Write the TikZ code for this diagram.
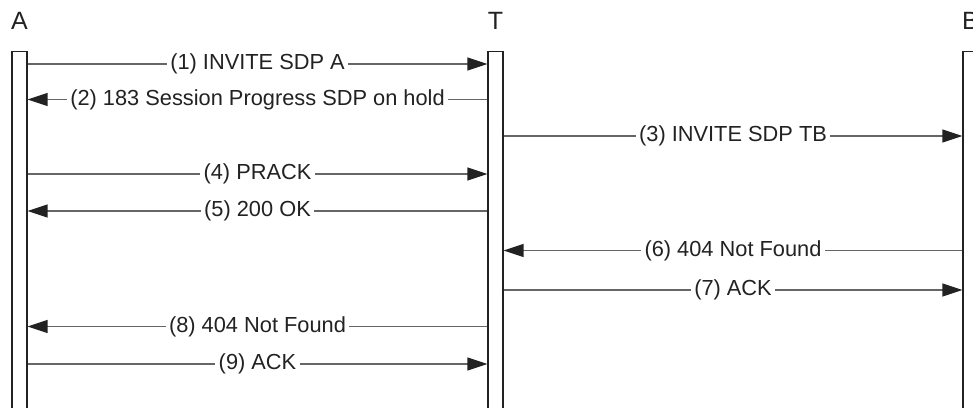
\documentclass[tikz,border=0pt]{standalone}
\usepackage{fontspec}
\setmainfont{Liberation Sans}
\usetikzlibrary{arrows.meta}
\definecolor{ink}{HTML}{222222}
\definecolor{wire}{HTML}{666666}
\tikzset{
  lifebar/.style={draw=ink, line width=1.3pt, fill=white, minimum width=15pt, minimum height=380pt, inner sep=0pt, anchor=north},
  party/.style={text=ink, font=\fontsize{25}{28}\selectfont, inner sep=0pt, anchor=base},
  msg/.style={draw=wire, line width=1.4pt, -{Triangle[length=20pt,width=13pt,color=ink]}},
  lbl/.style={fill=white, text=ink, font=\fontsize{21.8}{24}\selectfont, inner xsep=3.5pt, inner ysep=1pt, midway}
}
\begin{document}
\begin{tikzpicture}[x=1pt,y=-1pt]
\useasboundingbox (0,0) rectangle (973,407);
\clip (0,0) rectangle (973,407);
\fill[white] (0,0) rectangle (973,407);
% parties
\node[party] (lA) at (19.5,29) {A};
\node[party] (lT) at (495.5,29) {T};
\node[party] (lB) at (970.5,29) {B};
% lifelines
\node[lifebar] (A) at (19.5,51) {};
\node[lifebar] (T) at (495.5,51) {};
\node[lifebar] (B) at (970.5,51) {};
% message rows
\coordinate (m1) at (0,64);
\coordinate (m2) at (0,99.5);
\coordinate (m3) at (0,136);
\coordinate (m4) at (0,174);
\coordinate (m5) at (0,211);
\coordinate (m6) at (0,250.5);
\coordinate (m7) at (0,290);
\coordinate (m8) at (0,326.5);
\coordinate (m9) at (0,364);
\draw[msg] (A.east |- m1) -- node[lbl] {(1) INVITE SDP A} (T.west |- m1);
\draw[msg] (T.west |- m2) -- node[lbl] {(2) 183 Session Progress SDP on hold} (A.east |- m2);
\draw[msg] (T.east |- m3) -- node[lbl] {(3) INVITE SDP TB} (B.west |- m3);
\draw[msg] (A.east |- m4) -- node[lbl] {(4) PRACK} (T.west |- m4);
\draw[msg] (T.west |- m5) -- node[lbl] {(5) 200 OK} (A.east |- m5);
\draw[msg] (B.west |- m6) -- node[lbl] {(6) 404 Not Found} (T.east |- m6);
\draw[msg] (T.east |- m7) -- node[lbl] {(7) ACK} (B.west |- m7);
\draw[msg] (T.west |- m8) -- node[lbl] {(8) 404 Not Found} (A.east |- m8);
\draw[msg] (A.east |- m9) -- node[lbl] {(9) ACK} (T.west |- m9);
\end{tikzpicture}
\end{document}
